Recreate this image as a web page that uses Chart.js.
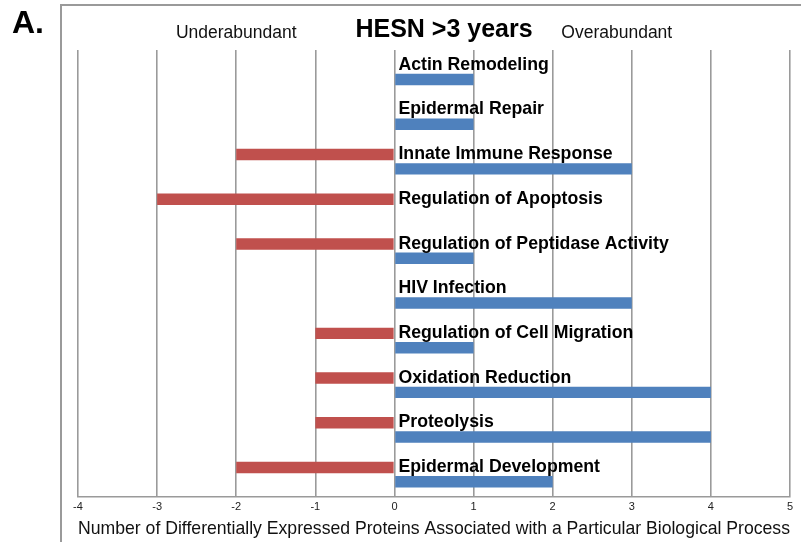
<!DOCTYPE html>
<html>
<head>
<meta charset="utf-8">
<script src="https://cdn.jsdelivr.net/npm/chart.js@4"></script>
<style>
  html, body { margin: 0; padding: 0; background: #fff; }
  #wrap { position: relative; width: 801px; height: 542px; }
  canvas { display: block; }
</style>
</head>
<body>
<div id="wrap"><canvas id="c" width="801" height="542"></canvas></div>
<script>
const categories = [
  "Actin Remodeling",
  "Epidermal Repair",
  "Innate Immune Response",
  "Regulation of Apoptosis",
  "Regulation of Peptidase Activity",
  "HIV Infection",
  "Regulation of Cell Migration",
  "Oxidation Reduction",
  "Proteolysis",
  "Epidermal Development"
];
const underabundant = [0, 0, -2, -3, -2, 0, -1, -1, -1, -2];
const overabundant  = [1, 1, 3, 0, 1, 3, 1, 4, 4, 2];
const xMin = -4, xMax = 5;
const panelLetter = "A.";
const chartTitle = "HESN >3 years";
const leftNote = "Underabundant";
const rightNote = "Overabundant";
const xAxisTitle = "Number of Differentially Expressed Proteins Associated with a Particular Biological Process";

const FONT = "'Liberation Sans', Arial, Helvetica, sans-serif";
const GRID = "#9a9a9a";

const decorations = {
  id: "decorations",
  beforeDraw(chart) {
    const ctx = chart.ctx;
    ctx.save();
    ctx.fillStyle = "#fff";
    ctx.fillRect(0, 0, chart.width, chart.height);
    // frame
    ctx.strokeStyle = GRID;
    ctx.lineWidth = 2;
    ctx.beginPath();
    ctx.moveTo(61, chart.height + 5);
    ctx.lineTo(61, 5);
    ctx.lineTo(chart.width + 5, 5);
    ctx.stroke();
    // panel letter
    ctx.fillStyle = "#000";
    ctx.font = "bold 32px " + FONT;
    ctx.textAlign = "left";
    ctx.textBaseline = "alphabetic";
    ctx.fillText(panelLetter, 12, 33);
    // title and notes
    const xs = chart.scales.x;
    ctx.font = "bold 25px " + FONT;
    ctx.textAlign = "center";
    ctx.fillText(chartTitle, 444, 37);
    ctx.font = "17.5px " + FONT;
    ctx.fillStyle = "#111";
    ctx.fillText(leftNote, xs.getPixelForValue(-2), 38);
    ctx.fillText(rightNote, xs.getPixelForValue(2.81), 38);
    ctx.restore();
  },
  afterDatasetsDraw(chart) {
    const ctx = chart.ctx;
    const xs = chart.scales.x;
    const blue = chart.getDatasetMeta(1).data;
    ctx.save();
    ctx.fillStyle = "#000";
    ctx.font = "bold 17.7px " + FONT;
    ctx.textAlign = "left";
    ctx.textBaseline = "alphabetic";
    categories.forEach((name, i) => {
      const b = blue[i];
      const top = b.y - b.height / 2;
      ctx.fillText(name, xs.getPixelForValue(0) + 4, top - 4);
    });
    ctx.restore();
  }
};

new Chart(document.getElementById("c"), {
  type: "bar",
  data: {
    labels: categories,
    datasets: [
      { label: leftNote, data: underabundant, backgroundColor: "#C0504D", borderWidth: 0,
        categoryPercentage: 0.64, barPercentage: 0.8 },
      { label: rightNote, data: overabundant, backgroundColor: "#4F81BD", borderWidth: 0,
        categoryPercentage: 0.64, barPercentage: 0.8 }
    ]
  },
  options: {
    indexAxis: "y",
    responsive: false,
    animation: false,
    devicePixelRatio: 1,
    layout: { padding: { left: 78, right: 11, top: 50, bottom: 0 } },
    plugins: {
      legend: { display: false },
      title: { display: false },
      tooltip: { enabled: false }
    },
    scales: {
      x: {
        type: "linear",
        min: xMin,
        max: xMax,
        ticks: { stepSize: 1, color: "#222", font: { size: 11, family: FONT }, padding: 3 },
        grid: { color: GRID, lineWidth: 1.6, drawTicks: false },
        border: { display: true, color: GRID, width: 1.6 },
        title: { display: true, text: xAxisTitle, color: "#111",
                 font: { size: 18.2, family: FONT }, padding: { top: 2, bottom: 2 } }
      },
      y: {
        display: false,
        grid: { display: false }
      }
    }
  },
  plugins: [decorations]
});
</script>
</body>
</html>
